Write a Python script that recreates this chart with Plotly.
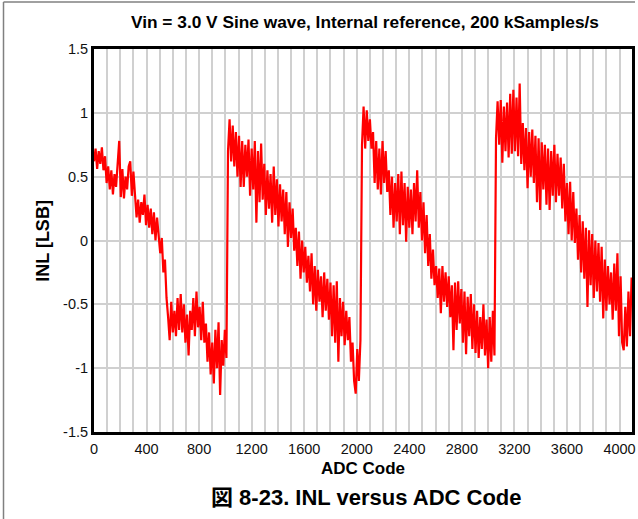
import plotly.graph_objects as go

# INL values (LSB), one value every 12 ADC codes
code_step = 12
inl_lsb = [
    # segment 1 (codes 0 - 1008)
    0.62, 0.72, 0.56, 0.70, 0.60, 0.73, 0.55, 0.66, 0.45,
    0.58, 0.40, 0.55, 0.36, 0.52, 0.42, 0.57, 0.78, 0.34,
    0.56, 0.33, 0.50, 0.40, 0.58, 0.62, 0.35, 0.54,
    0.36, 0.18, 0.32, 0.14, 0.30, 0.20, 0.36, 0.12,
    0.28, 0.10, 0.25, 0.05, 0.22, 0.00, 0.18,
    0.05, -0.10, 0.02, -0.25, -0.15, -0.45,
    -0.60, -0.78, -0.48, -0.72, -0.55, -0.75, -0.45, -0.70, -0.42,
    -0.72, -0.50, -0.80, -0.58, -0.90, -0.55, -0.70, -0.45,
    -0.75, -0.40, -0.68, -0.52, -0.78, -0.48, -0.80, -0.65, -0.95,
    -0.72, -1.05, -0.80, -1.12, -0.70, -1.00, -0.64, -1.21, -0.78, -0.98, -0.70, -0.92,
    # segment 2 (codes 1020 - 2028)
    0.70, 0.95, 0.62, 0.90, 0.58, 0.85, 0.50, 0.82, 0.42,
    0.78, 0.42, 0.75, 0.50, 0.79, 0.35, 0.72, 0.40, 0.78,
    0.14, 0.70, 0.30, 0.76, 0.32, 0.60, 0.20, 0.55, 0.25,
    0.52, 0.14, 0.58, 0.20, 0.48, 0.11, 0.44, 0.15, 0.40,
    0.05, 0.38, -0.05, 0.30, 0.02, 0.25, -0.08, 0.10, -0.20,
    0.07, -0.30, 0.00, -0.25, -0.05, -0.33, -0.12, -0.40, -0.10,
    -0.50, -0.20, -0.55, -0.23, -0.48, -0.28, -0.60, -0.25, -0.55,
    -0.30, -0.62, -0.33, -0.75, -0.35, -0.80, -0.32, -0.95, -0.45,
    -0.75, -0.48, -0.82, -0.55, -0.78, -0.60, -0.95, -0.80, -1.10,
    -1.20, -0.85, -1.10, -0.78,
    # segment 3 (codes 2040 - 3048)
    0.75, 1.05, 0.72, 1.02, 0.78, 0.95, 0.72, 0.85, 0.45,
    0.78, 0.40, 0.72, 0.36, 0.78, 0.45, 0.70, 0.38, 0.55,
    0.20, 0.50, 0.10, 0.45, 0.15, 0.52, 0.05, 0.54, 0.12,
    0.45, -0.01, 0.42, 0.10, 0.40, 0.05, 0.45, 0.15, 0.55,
    0.10, 0.38, 0.00, 0.30, -0.10, 0.20, -0.20, 0.05, -0.30,
    -0.07, -0.35, -0.20, -0.45, -0.22, -0.57, -0.20, -0.48, -0.25,
    -0.52, -0.28, -0.60, -0.35, -0.86, -0.33, -0.70, -0.32, -0.65,
    -0.38, -0.80, -0.40, -0.89, -0.44, -0.75, -0.42, -0.85, -0.50,
    -0.88, -0.55, -0.92, -0.60, -0.85, -0.50, -0.90, -0.62, -1.00,
    -0.60, -0.95, -0.55, -0.90,
    # segment 4 (codes 3060 - 4092)
    0.80, 1.09, 0.75, 1.10, 0.61, 1.05, 0.70, 1.08, 0.65,
    1.15, 0.68, 1.18, 0.70, 1.12, 0.66, 1.23, 0.60, 0.92,
    0.55, 0.88, 0.41, 0.85, 0.50, 0.87, 0.45, 0.82, 0.30,
    0.80, 0.24, 0.77, 0.40, 0.75, 0.28, 0.72, 0.24, 0.70,
    0.35, 0.75, 0.30, 0.68, 0.35, 0.65, 0.25, 0.60, 0.15,
    0.45, 0.05, 0.46, 0.00, 0.38, -0.02, 0.25, -0.15, 0.20,
    -0.25, 0.15, -0.30, 0.10, -0.52, 0.08, -0.35, 0.05, -0.45,
    0.00, -0.40, -0.02, -0.48, -0.05, -0.61, -0.15, -0.55, -0.20,
    -0.50, -0.25, -0.62, -0.18, -0.55, -0.10, -0.75, -0.28, -0.80,
    -0.86, -0.52, -0.83, -0.40, -0.75, -0.29,
]
adc_code = [i * code_step for i in range(len(inl_lsb))]

x_ticks = [0, 400, 800, 1200, 1600, 2000, 2400, 2800, 3200, 3600, 4000]
y_ticks = [-1.5, -1, -0.5, 0, 0.5, 1, 1.5]
y_tick_text = ["-1.5", "-1", "-0.5", "0", "0.5", "1", "1.5"]

title_text = "Vin = 3.0 V Sine wave, Internal reference, 200 kSamples/s"
caption_text = "図 8-23. INL versus ADC Code"

FONT = "Liberation Sans, Arial, Noto Sans CJK JP, sans-serif"

fig = go.Figure()
fig.add_trace(go.Scatter(x=adc_code, y=inl_lsb, mode="lines",
                         line=dict(color="#ff0000", width=2.2), showlegend=False))

W, H = 638, 519
L, R, T, B = 94, 3, 49, 87
pw, ph = W - L - R, H - T - B

def px_x(x):
    return (x - L) / pw

def px_y(y):
    return 1 - (y - T) / ph

fig.update_layout(
    width=W, height=H,
    margin=dict(l=L, r=R, t=T, b=B),
    paper_bgcolor="white", plot_bgcolor="white",
    font=dict(family=FONT, color="#111111", size=14),
    xaxis=dict(range=[0, 4095], tickvals=x_ticks, ticktext=[str(v) for v in x_ticks],
               showgrid=True, gridcolor="#d0d0d0", gridwidth=2,
               minor=dict(dtick=100, tick0=0, showgrid=True, gridcolor="#d0d0d0", gridwidth=2),
               showline=True, linecolor="black", linewidth=3, mirror=True,
               ticks="", zeroline=False, ticklabelstandoff=2,
               tickfont=dict(size=14.5, color="#111111")),
    yaxis=dict(range=[-1.5, 1.5], tickvals=y_ticks, ticktext=y_tick_text,
               showgrid=True, gridcolor="#d0d0d0", gridwidth=2,
               showline=True, linecolor="black", linewidth=3, mirror=True,
               ticks="", zeroline=False, tickfont=dict(size=14.5, color="#111111")),
    annotations=[
        dict(text="<b>" + title_text + "</b>", x=px_x(367), y=px_y(22), xref="paper", yref="paper",
             showarrow=False, font=dict(size=17.3, family=FONT, color="#000000"),
             xanchor="center", yanchor="middle"),
        dict(text="<b>INL [LSB]</b>", x=px_x(42), y=0.5, xref="paper", yref="paper",
             showarrow=False, textangle=-90, font=dict(size=18, family=FONT, color="#000000"),
             xanchor="center", yanchor="middle"),
        dict(text="<b>ADC Code</b>", x=px_x(364), y=px_y(468), xref="paper", yref="paper",
             showarrow=False, font=dict(size=17, family=FONT, color="#000000"),
             xanchor="center", yanchor="middle"),
        dict(text="<b>" + caption_text + "</b>", x=px_x(368), y=px_y(497), xref="paper", yref="paper",
             showarrow=False, font=dict(size=22, family=FONT, color="#000000"),
             xanchor="center", yanchor="middle"),
    ],
    shapes=[
        dict(type="line", xref="paper", yref="paper", x0=px_x(3), x1=px_x(3),
             y0=px_y(2), y1=px_y(519), line=dict(color="#808080", width=1.5)),
        dict(type="line", xref="paper", yref="paper", x0=px_x(3), x1=px_x(638),
             y0=px_y(2), y1=px_y(2), line=dict(color="#808080", width=1.5)),
    ],
)

fig.write_html("out.html")
